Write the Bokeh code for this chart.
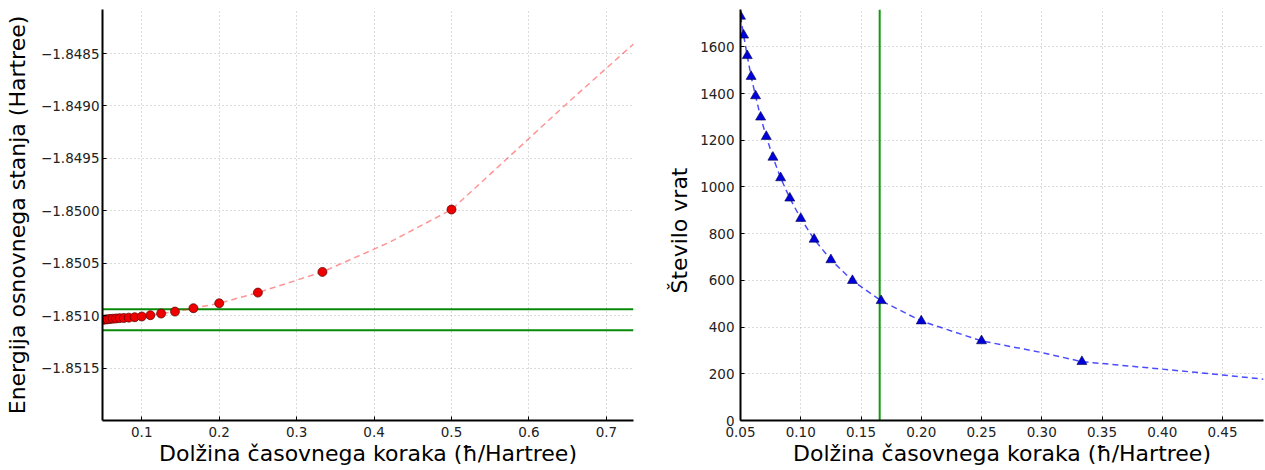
from bokeh.plotting import figure
from bokeh.layouts import row
from bokeh.models import Range1d, FixedTicker, CustomJSTickFormatter, Span, Title
from bokeh.embed import file_html
from bokeh.resources import INLINE

# ---------------- data ----------------
step = [0.05, 0.0526, 0.0556, 0.0588, 0.0625, 0.0667, 0.0714, 0.0769, 0.0833,
        0.0909, 0.1, 0.1111, 0.125, 0.1429, 0.1667, 0.2, 0.25, 0.3333, 0.5]
energy = [-1.851040, -1.851037, -1.851035, -1.851032, -1.851029, -1.851027,
          -1.851024, -1.851022, -1.851019, -1.851015, -1.851008, -1.850996,
          -1.850980, -1.850961, -1.850929, -1.850882, -1.850780, -1.850583,
          -1.849988]

energy_fit_x = [0.05, 0.0769, 0.1, 0.1429, 0.1667, 0.2, 0.25, 0.3333, 0.42,
                0.5, 0.55, 0.6, 0.65, 0.7, 0.735]
energy_fit_y = [-1.851040, -1.851022, -1.851008, -1.850961, -1.850929,
                -1.850882, -1.850780, -1.850583, -1.850300, -1.849988,
                -1.849650, -1.849310, -1.848970, -1.848640, -1.848410]

energy_band = [-1.85094, -1.85114]

gate_step = [0.05, 0.0526, 0.0556, 0.0588, 0.0625, 0.0667, 0.0714, 0.0769,
             0.0833, 0.0909, 0.1, 0.1111, 0.125, 0.1429, 0.1667, 0.2, 0.25,
             0.3333]
gates = [1731, 1650, 1562, 1473, 1390, 1299, 1216, 1127, 1039, 952, 865, 776,
         688, 599, 513, 426, 341, 252]

gate_fit_x = gate_step + [0.3, 0.4, 0.45, 0.484]
gate_fit_y = gates + [291, 220, 195, 177]
gate_fit_x, gate_fit_y = zip(*sorted(zip(gate_fit_x, gate_fit_y)))

chosen_step = 0.1655

left_xticks = [0.1, 0.2, 0.3, 0.4, 0.5, 0.6, 0.7]
left_yticks = [-1.8515, -1.8510, -1.8505, -1.8500, -1.8495, -1.8490, -1.8485]
right_xticks = [0.05, 0.10, 0.15, 0.20, 0.25, 0.30, 0.35, 0.40, 0.45]
right_yticks = [0, 200, 400, 600, 800, 1000, 1200, 1400, 1600]

x_label = "Dolžina časovnega koraka (ħ/Hartree)"
left_ylabel = "Energija osnovnega stanja (Hartree)"
right_ylabel = "Število vrat"

FONT = "DejaVu Sans"


def style(p):
    p.outline_line_color = None
    p.toolbar.logo = None
    for ax in (p.xaxis, p.yaxis):
        ax.axis_line_color = "black"
        ax.axis_line_width = 2
        ax.major_tick_in = 4
        ax.major_tick_out = 0
        ax.major_tick_line_color = "black"
        ax.minor_tick_line_color = None
        ax.major_label_text_font = FONT
        ax.major_label_text_font_size = "13.5px"
        ax.major_label_text_color = "#222222"
        ax.axis_label_text_font = FONT
        ax.axis_label_text_font_size = "22px"
        ax.axis_label_text_font_style = "normal"
        ax.axis_label_text_color = "black"
    p.xaxis.major_label_standoff = 6
    p.xaxis.axis_label_standoff = 1
    for g in (p.xgrid, p.ygrid):
        g.grid_line_color = "#b8b8b8"
        g.grid_line_dash = "1 3"
        g.grid_line_width = 1


# ---------------- left ----------------
p1 = figure(width=648, height=470, output_backend="svg", toolbar_location=None,
            x_range=Range1d(0.0493, 0.735), y_range=Range1d(-1.852, -1.84808),
            min_border_left=102, min_border_right=15, min_border_top=8,
            min_border_bottom=50)
style(p1)
p1.xaxis.ticker = FixedTicker(ticks=left_xticks)
p1.yaxis.ticker = FixedTicker(ticks=left_yticks)
p1.xaxis.formatter = CustomJSTickFormatter(code="return tick.toFixed(1);")
p1.yaxis.formatter = CustomJSTickFormatter(
    code="return tick.toFixed(4).replace('-', '\u2212');")
p1.yaxis.major_label_standoff = 3
p1.yaxis.axis_label_standoff = 8
p1.xaxis.axis_label = x_label
p1.yaxis.axis_label = left_ylabel

for e in energy_band:
    p1.add_layout(Span(location=e, dimension="width", line_color="#088a08",
                       line_width=2, level="underlay"))
p1.line(energy_fit_x, energy_fit_y, line_color="#ff0000", line_alpha=0.42,
        line_width=1.5, line_dash="6 4")
p1.scatter(step, energy, size=9, marker="circle", fill_color="#ee0000",
           line_color="#550000", line_width=0.7)

# ---------------- right ----------------
p2 = figure(width=617, height=470, output_backend="svg", toolbar_location=None,
            x_range=Range1d(0.05, 0.484), y_range=Range1d(0, 1760),
            min_border_left=92, min_border_right=2, min_border_top=9,
            min_border_bottom=50)
style(p2)
p2.xaxis.ticker = FixedTicker(ticks=right_xticks)
p2.yaxis.ticker = FixedTicker(ticks=right_yticks)
p2.xaxis.formatter = CustomJSTickFormatter(code="return tick.toFixed(2);")
p2.yaxis.formatter = CustomJSTickFormatter(code="return tick.toFixed(0);")
p2.yaxis.major_label_standoff = 6
p2.xaxis.axis_label = x_label
p2.add_layout(Title(text=right_ylabel, align="left", offset=127,
                    standoff=12, text_font=FONT, text_font_size="22px",
                    text_font_style="normal", text_color="black"), "left")

p2.add_layout(Span(location=chosen_step, dimension="height",
                   line_color="#109a10", line_width=2, level="underlay"))
p2.line(list(gate_fit_x), list(gate_fit_y), line_color="#0000ff",
        line_alpha=0.7, line_width=1.5, line_dash="6 4")
p2.scatter(gate_step, gates, size=10, marker="triangle", fill_color="#0000dd",
           line_color="#000044", line_width=0.6)

layout = row(p1, p2)
open("out.html", "w").write(file_html(layout, INLINE))
